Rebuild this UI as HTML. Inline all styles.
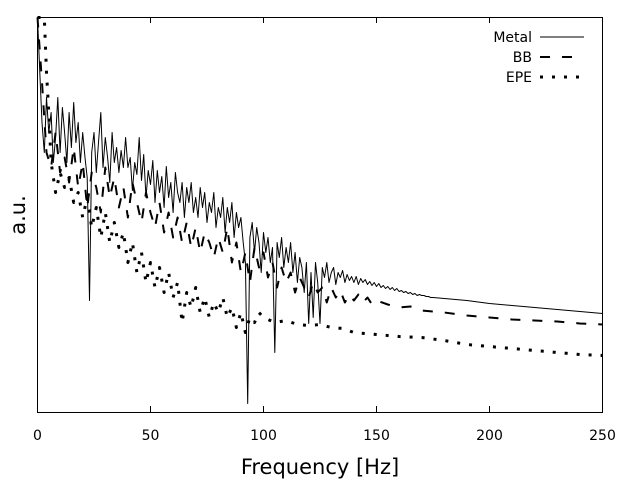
<!DOCTYPE html>
<html><head><meta charset="utf-8"><style>
body{margin:0;background:#fff;}
svg{font-family:"DejaVu Sans","Liberation Sans",sans-serif;}
</style></head><body>
<svg id="chart" width="640" height="480" viewBox="0 0 640 480" xmlns="http://www.w3.org/2000/svg">
<g id="series"></g>
<rect x="37.5" y="17.5" width="565" height="395" fill="none" stroke="#000" stroke-width="1"/>
<g id="ticks"></g>
<text x="320" y="474" font-size="21" text-anchor="middle">Frequency [Hz]</text>
<text transform="translate(25,215) rotate(-90)" font-size="21" text-anchor="middle">a.u.</text>
<g id="legend"></g>
</svg>
<script>
const xTicks=[0,50,100,150,200,250];
const metalFreq=[];for(let i=0;i<=175;i++)metalFreq.push(i);
metalFreq.push(180,190,200,210,220,230,240,250);
const metalVal=[395,340,290,260,315,280,300,250,275,315,260,305,280,250,300,265,310,270,290,250,280,255,235,112,260,280,240,270,300,245,275,255,230,280,250,265,240,262,245,275,245,255,222,250,238,275,232,258,215,242,228,252,210,242,220,236,205,246,215,230,200,240,220,210,230,195,225,210,230,200,215,195,225,205,220,190,210,200,220,185,205,195,215,180,205,190,210,175,200,185,195,170,150,9,175,190,160,185,170,140,180,160,175,150,165,60,170,155,175,145,165,150,170,140,160,130,155,145,120,150,89,140,95,150,130,89,145,135,150,130,140,145,128,140,135,142,130,138,132,136,130,136,128,134,130,133,128,131,127,130,126,129,125,127,124,126,123,125,122,124,121,122,120,121,119,120,118,119,117,118,117,117,116,116,115,115,114,112,109,107,105,103,101,99];
const bbFreq=[0,2,4,6,8,10,12,14,16,18,20,22,24,26,28,30,32,34,36,38,40,42,44,46,48,50,52,54,56,58,60,62,64,66,68,70,72,74,76,78,80,82,84,86,88,90,92,94,96,98,100,102,104,106,108,110,112,114,116,118,120,122,124,126,128,130,132,134,136,138,140,142,144,146,148,150,155,160,165,170,180,190,200,210,220,230,240,250];
const bbVal=[395,330,260,245,280,240,255,230,265,225,250,205,240,225,200,245,215,235,205,225,195,230,210,190,220,200,185,210,180,200,175,195,170,190,165,185,160,180,170,155,175,160,185,150,170,140,160,130,165,145,160,135,150,125,145,130,140,120,135,125,115,130,120,125,110,125,115,122,110,118,112,118,110,115,108,112,108,105,106,102,100,97,95,93,92,91,89,88];
const epeFreq=[0,2,3,4,5,6,8,10,12,14,16,18,20,22,24,26,28,30,32,34,36,38,40,42,44,46,48,50,52,54,56,58,60,62,64,66,68,70,72,74,76,78,80,82,84,86,88,90,92,94,96,98,100,105,110,115,120,125,130,135,140,150,160,170,180,190,200,210,220,230,240,250];
const epeVal=[395,395,395,340,300,250,220,240,225,235,210,220,195,215,185,205,175,200,170,190,165,180,150,170,140,160,130,150,125,145,120,140,115,130,90,120,105,125,100,115,95,110,100,115,95,105,85,100,80,95,90,100,95,90,92,88,87,88,85,84,80,78,76,75,72,68,66,64,62,60,58,57];
const legendLabels=["Metal","BB","EPE"];
const NS="http://www.w3.org/2000/svg";
const xS=f=>37.5+f*565/250;
const yS=v=>Math.max(17.5,412.5-v);
function line(fr,vals,name,w,dash){
  const p=document.createElementNS(NS,'path');
  
  
  p.setAttribute('d',fr.map((f,i)=>(i?'L':'M')+xS(f).toFixed(1)+' '+yS(vals[i]).toFixed(1)).join(''));
  p.setAttribute('fill','none');p.setAttribute('stroke','#000');
  p.setAttribute('stroke-width',w);p.setAttribute('stroke-linejoin','round');
  if(dash)p.setAttribute('stroke-dasharray',dash);
  document.getElementById('series').appendChild(p);
}
line(metalFreq,metalVal,'metal-line',1,null);
line(bbFreq,bbVal,'bb-line',2,'10 12');
line(epeFreq,epeVal,'epe-line',3,'3 9');
const tg=document.getElementById('ticks');
xTicks.forEach(t=>{
  const x=xS(t);
  const l=document.createElementNS(NS,'path');
  
  
  l.setAttribute('d',`M${x} 412V406M${x} 17V23`);l.setAttribute('stroke','#000');
  tg.appendChild(l);
  const tx=document.createElementNS(NS,'text');
  
  
  tx.setAttribute('x',x);tx.setAttribute('y',440);tx.setAttribute('font-size','14');tx.setAttribute('text-anchor','middle');
  tx.textContent=t;tg.appendChild(tx);
});
const lg=document.getElementById('legend');
const styles=[[1,null],[2,'10 12'],[3,'3 9']];
legendLabels.forEach((s,i)=>{
  const y=37+i*20;
  const tx=document.createElementNS(NS,'text');
  
  
  tx.setAttribute('x',532);tx.setAttribute('y',y+5);tx.setAttribute('font-size','14');tx.setAttribute('text-anchor','end');
  tx.textContent=s;lg.appendChild(tx);
  const l=document.createElementNS(NS,'path');
  
  
  l.setAttribute('d',`M540 ${y}H584`);l.setAttribute('stroke','#000');l.setAttribute('stroke-width',styles[i][0]);
  if(styles[i][1])l.setAttribute('stroke-dasharray',styles[i][1]);
  lg.appendChild(l);
});
</script>
</body></html>
